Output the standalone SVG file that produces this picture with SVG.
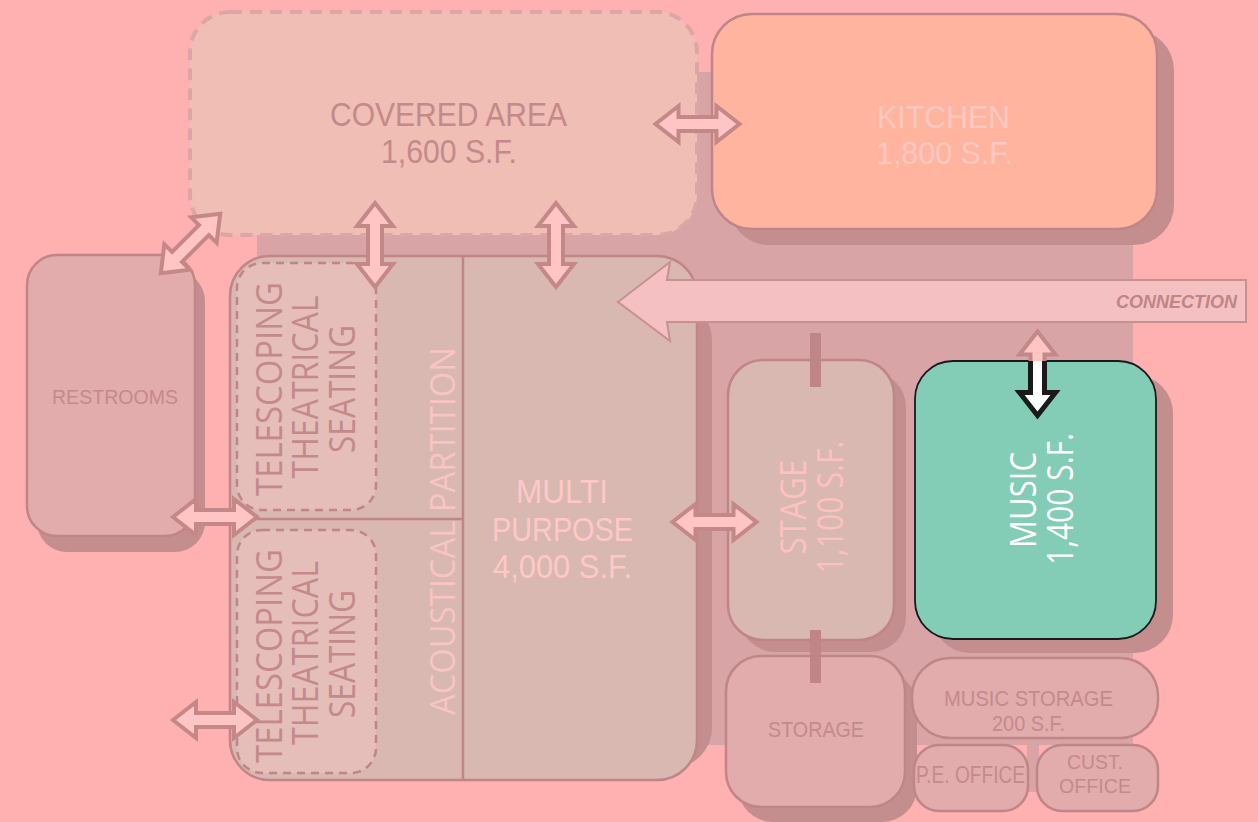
<svg xmlns="http://www.w3.org/2000/svg" xmlns:xlink="http://www.w3.org/1999/xlink" width="1258" height="822" viewBox="0 0 1258 822">
<style>
.shadow{fill:#C48E8F}
.node{stroke:#C08586;stroke-width:2.5}
.lbl{font-family:"Open Sans","Noto Sans",sans-serif;text-anchor:middle}
.hl{font-family:"Liberation Sans",Arial,sans-serif;text-anchor:middle}
.dark{fill:#C48A8B}
.arrow{fill:#FFC4C4;stroke:#C48888;stroke-width:4;stroke-linejoin:miter}
.div{stroke:#C08586;stroke-width:2.5;fill:none}
</style>
<defs>
<path id="dbl" d="M-42,0 L-19,-18 L-19,-7 L19,-7 L19,-18 L42,0 L19,18 L19,7 L-19,7 L-19,18 Z"/>
<clipPath id="musicClip"><rect x="915" y="361" width="241" height="278" rx="38"/></clipPath>
</defs>
<rect x="0" y="0" width="1258" height="822" fill="#FFB0B0"/>
<rect x="257" y="72" width="876" height="673" fill="#D8A4A5"/>
<rect x="1027" y="740" width="12" height="52" fill="#D8A4A5"/>

<g id="shadows">
<rect class="shadow" x="729" y="30" width="445" height="215" rx="40"/>
<rect class="shadow" x="37" y="271" width="168" height="281" rx="30"/>
<rect class="shadow" x="257" y="300" width="455" height="468" rx="40"/>
<rect class="shadow" x="740" y="372" width="166" height="280" rx="35"/>
<rect class="shadow" x="932" y="375" width="241" height="278" rx="38"/>
<rect class="shadow" x="738" y="671" width="179" height="151" rx="35"/>
</g>

<g id="covered-area">
<rect x="190" y="12" width="507" height="223" rx="40" fill="#F0BEB4" stroke="#DDA6A6" stroke-width="4" stroke-dasharray="12 8"/>
<text class="hl dark" font-size="33"><tspan x="448.5" y="126" textLength="237" lengthAdjust="spacingAndGlyphs">COVERED AREA</tspan><tspan x="449" y="163" textLength="136" lengthAdjust="spacingAndGlyphs">1,600 S.F.</tspan></text>
</g>

<g id="kitchen">
<rect class="node" x="712" y="14" width="445" height="215" rx="40" fill="#FFB4A0"/>
<text class="hl" fill="#FFC8C0" font-size="32"><tspan x="943.5" y="128" textLength="133" lengthAdjust="spacingAndGlyphs">KITCHEN</tspan><tspan x="944.5" y="164" textLength="137" lengthAdjust="spacingAndGlyphs">1,800 S.F.</tspan></text>
</g>

<g id="restrooms">
<rect class="node" x="27" y="255" width="168" height="281" rx="30" fill="#E2ACAD"/>
<text class="hl dark" x="115" y="404" font-size="21" textLength="126" lengthAdjust="spacingAndGlyphs">RESTROOMS</text>
</g>

<g id="multi-purpose">
<rect class="node" x="230" y="256" width="467" height="524" rx="40" fill="#D8B8B0"/>
<line class="div" x1="463" y1="256" x2="463" y2="780"/>
<line class="div" x1="230" y1="519" x2="463" y2="519"/>
<text class="lbl" fill="#F8C4C4" transform="translate(455,531) rotate(-90)" font-size="35" textLength="368" lengthAdjust="spacingAndGlyphs">ACOUSTICAL PARTITION</text>
<text class="hl" fill="#FFC8C8" font-size="33"><tspan x="562" y="503" textLength="92" lengthAdjust="spacingAndGlyphs">MULTI</tspan><tspan x="562.5" y="541" textLength="141" lengthAdjust="spacingAndGlyphs">PURPOSE</tspan><tspan x="562.5" y="578" textLength="139" lengthAdjust="spacingAndGlyphs">4,000 S.F.</tspan></text>
</g>

<g id="seating-top">
<rect x="237" y="263" width="139" height="247" rx="25" fill="#E6BEB9" stroke="#C08586" stroke-width="2.5" stroke-dasharray="8 6"/>
<text class="lbl dark" transform="translate(282,388) rotate(-90)" font-size="37"><tspan x="-1" y="0" textLength="214" lengthAdjust="spacingAndGlyphs">TELESCOPING</tspan><tspan x="1" y="36" textLength="183" lengthAdjust="spacingAndGlyphs">THEATRICAL</tspan><tspan x="-1" y="73" textLength="128" lengthAdjust="spacingAndGlyphs">SEATING</tspan></text>
</g>

<g id="seating-bottom">
<rect x="237" y="530" width="139" height="243" rx="25" fill="#E6BEB9" stroke="#C08586" stroke-width="2.5" stroke-dasharray="8 6"/>
<text class="lbl dark" transform="translate(282,654) rotate(-90)" font-size="37"><tspan x="-2" y="0" textLength="214" lengthAdjust="spacingAndGlyphs">TELESCOPING</tspan><tspan x="1" y="36" textLength="184" lengthAdjust="spacingAndGlyphs">THEATRICAL</tspan><tspan x="0" y="73" textLength="128" lengthAdjust="spacingAndGlyphs">SEATING</tspan></text>
</g>

<g id="stage">
<rect class="node" x="728" y="360" width="166" height="280" rx="35" fill="#D8B8B0"/>
<text class="lbl" fill="#FFC0C0" transform="translate(806,507) rotate(-90)" font-size="37"><tspan x="0" y="0" textLength="95" lengthAdjust="spacingAndGlyphs">STAGE</tspan><tspan x="0" y="37" textLength="133" lengthAdjust="spacingAndGlyphs">1,100 S.F.</tspan></text>
</g>

<g id="music">
<rect x="915" y="361" width="241" height="278" rx="38" fill="#83CCB5" stroke="#1A1A1A" stroke-width="1.8"/>
<text class="lbl" fill="#FFFFFF" transform="translate(1036,500) rotate(-90)" font-size="37"><tspan x="0" y="0" textLength="96" lengthAdjust="spacingAndGlyphs">MUSIC</tspan><tspan x="1" y="37" textLength="132" lengthAdjust="spacingAndGlyphs">1,400 S.F.</tspan></text>
</g>

<g id="storage">
<rect class="node" x="726" y="656" width="179" height="151" rx="35" fill="#E2ACAD"/>
<text class="hl dark" x="816" y="737" font-size="22" textLength="96" lengthAdjust="spacingAndGlyphs">STORAGE</text>
</g>

<g id="music-storage">
<rect class="node" x="912" y="658" width="246" height="80" rx="38" fill="#E2ACAD"/>
<text class="hl dark" font-size="22"><tspan x="1028.5" y="706" textLength="169" lengthAdjust="spacingAndGlyphs">MUSIC STORAGE</tspan><tspan x="1028.5" y="731" textLength="73" lengthAdjust="spacingAndGlyphs">200 S.F.</tspan></text>
</g>

<g id="pe-office">
<rect class="node" x="914" y="745" width="114" height="66" rx="25" fill="#E2ACAD"/>
<text class="hl dark" x="970.5" y="783" font-size="23" textLength="109" lengthAdjust="spacingAndGlyphs">P.E. OFFICE</text>
</g>

<g id="cust-office">
<rect class="node" x="1037" y="745" width="121" height="66" rx="25" fill="#E2ACAD"/>
<text class="hl dark" font-size="21"><tspan x="1095" y="769" textLength="56" lengthAdjust="spacingAndGlyphs">CUST.</tspan><tspan x="1095" y="793" textLength="72" lengthAdjust="spacingAndGlyphs">OFFICE</tspan></text>
</g>

<g id="connectors">
<rect x="810" y="333" width="11" height="54" fill="#C08586"/>
<rect x="810" y="630" width="11" height="53" fill="#C08586"/>
<g id="connection">
<path d="M618,302 L670,262 L667,280 L1246,280 L1246,322 L667,322 L670,341 Z" fill="#F5C0C1" stroke="#C89090" stroke-width="2"/>
<text x="1237" y="308" font-family="'Liberation Sans',Arial,sans-serif" font-weight="bold" font-style="italic" font-size="18" fill="#C08586" text-anchor="end">CONNECTION</text>
</g>
<use href="#dbl" class="arrow" transform="translate(697.5,124)"/>
<use href="#dbl" class="arrow" transform="translate(375,245) rotate(90)"/>
<use href="#dbl" class="arrow" transform="translate(556,245) rotate(90)"/>
<use href="#dbl" class="arrow" transform="translate(190.5,243.5) rotate(-45)"/>
<use href="#dbl" class="arrow" transform="translate(215,517)"/>
<use href="#dbl" class="arrow" transform="translate(215,720)"/>
<use href="#dbl" class="arrow" transform="translate(714.5,522)"/>
<use href="#dbl" class="arrow" transform="translate(1037.5,373.5) rotate(90)"/>
<g clip-path="url(#musicClip)">
<use href="#dbl" transform="translate(1037.5,373.5) rotate(90)" fill="#FFFFFF" stroke="#1A1A1A" stroke-width="5"/>
</g>
</g>
</svg>
